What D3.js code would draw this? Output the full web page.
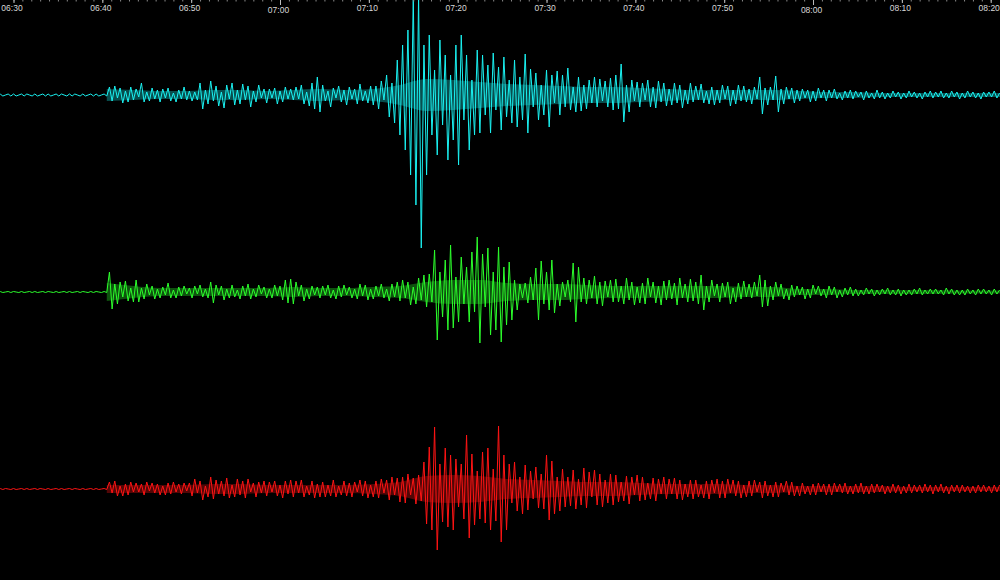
<!DOCTYPE html>
<html><head><meta charset="utf-8">
<script src="https://cdn.jsdelivr.net/npm/d3@7"></script>
<style>html,body{margin:0;padding:0;background:#000;overflow:hidden}</style>
</head><body>
<svg id="c" width="1000" height="580"></svg>
<script>
// time axis: labels every 10 minutes from 06:30 to 08:20
const tickLabels = ["06:30","06:40","06:50","07:00","07:10","07:20","07:30","07:40","07:50","08:00","08:10","08:20"];
// peak samples start at 06:28:30, one every 18 s
const startTime = "06:28:30";
const stepSeconds = 18;
// dense core band (half-width) starts at onset 06:40:30, one value every 3 min
const coreStart = "06:40:30";
const coreStepSeconds = 180;
const traceNames = ["cyan","green","red"];

const cyanValues = [
1,-1,0,1,-1,1,-1,0,1,-1, 1,0,-1,1,-1,0,1,-1,1,-1, 0,1,-1,1,0,-1,1,-1,1,0, -1,1,-1,0,1,-1,1,-1,0,1, -1,
8,-6,9,-3,7,-8,4,-7,8,-5,
6,-2,12,-7,3,-6,7,-4,5,-7,
6,-3,7,-6,2,-7,5,-4,8,-5,
4,-6,3,-5,12,-14,5,-9,14,-6,
9,-11,3,-13,10,-4,12,-10,5,-9,
11,-5,9,-12,4,-7,10,-3,6,-8,
6,-3,7,-9,4,-7,8,-4,6,-5,
8,-4,10,-9,3,-11,12,-14,18,-17,
10,-6,4,-12,7,-3,9,-7,5,-10,
8,-4,6,-9,11,-6,4,-8,9,-10,
9,-14,14,-5,20,-22,12,-28,35,-40,
50,-55,65,-80,100,-110,100,-153,50,-80,
60,-40,25,-60,55,-30,40,-65,20,-45,
50,-70,60,-25,40,-55,15,-40,45,-38,
40,-20,30,-38,42,-15,28,-35,38,-22,
15,-28,35,-32,18,-25,41,-38,26,-12,
22,-25,10,-20,25,-32,20,-8,24,-20,
20,-12,27,-15,8,-17,18,-16,10,-14,
15,-8,18,-12,16,-6,14,-12,17,-15,
20,-14,31,-27,10,-17,15,-6,13,-12,
12,-5,15,-12,8,-13,14,-7,12,-11,
6,-10,12,-8,10,-13,5,-9,12,-7,
9,-5,11,-8,4,-9,8,-10,5,-8,
10,-4,9,-11,5,-9,10,-6,9,-7,
6,-9,8,-4,18,-19,7,-10,8,-5,
19,-17,6,-9,8,-4,7,-8,5,-6,
6,-3,5,-7,4,-6,7,-3,5,-6,
5,-3,6,-4,2,-5,4,-3,5,-4,
4,-2,3,-5,4,-3,2,-4,5,-3,
3,-4,2,-3,4,-2,3,-4,2,-3,
4,-2,3,-3,2,-4,3,-2,4,-3,
3,-2,4,-3,2,-3,4,-2,3,-4,
2,-3,4,-2,3,-3,2,-4,3,-2,
3,-2,4,-3,2
];

const greenValues = [
0.5,-0.5,0,0.5,-0.5,0.5,0,-0.5,0.5,-0.5, 0,0.5,-0.5,0.5,-0.5,0,0.5,-0.5,0.5,0, -0.5,0.5,-0.5,0,0.5,-0.5,0.5,-0.5,0,0.5, -0.5,0.5,0,-0.5,0.5,-0.5,0.5,0,-0.5,0.5, -0.5,
20,-17,8,-12,10,-5,11,-9,4,-10,
12,-10,4,-7,8,-3,6,-7,3,-6,
5,-3,9,-6,2,-6,5,-4,6,-2,
4,-6,6,-2,7,-5,3,-6,10,-11,
7,-3,6,-8,3,-6,7,-5,2,-7,
6,-4,8,-7,3,-5,7,-2,5,-6,
3,-6,7,-4,6,-8,12,-11,13,-12,
10,-4,7,-9,3,-7,6,-3,5,-6,
6,-3,7,-6,2,-7,6,-5,7,-3,
5,-6,3,-7,8,-4,7,-8,3,-7,
6,-4,8,-6,3,-9,8,-5,10,-9,
12,-6,10,-13,5,-12,14,-8,17,-15,
18,-10,42,-48,20,-25,32,-38,47,-36,
15,-30,35,-12,25,-30,40,-20,55,-51,
38,-15,44,-43,20,-38,45,-50,25,-33,
30,-28,12,-18,8,-6,9,-11,15,-8,
24,-28,31,-12,20,-18,32,-21,8,-14,
10,-5,12,-10,29,-30,25,-10,14,-12,
12,-6,16,-12,10,-14,11,-5,12,-10,
13,-10,6,-12,14,-8,10,-13,5,-11,
9,-12,14,-5,10,-11,6,-13,11,-8,
12,-7,9,-13,14,-6,8,-10,13,-9,
10,-12,17,-18,6,-10,12,-4,8,-10,
9,-5,10,-12,4,-10,9,-7,11,-5,
8,-6,10,-4,17,-15,12,-14,6,-8,
10,-4,8,-7,3,-8,7,-5,6,-3,
5,-7,3,-6,7,-2,6,-4,3,-6,
6,-3,5,-6,2,-5,4,-3,5,-4,
3,-4,2,-3,4,-2,3,-4,2,-3,
3,-2,4,-3,2,-3,3,-4,2,-3,
2,-3,3,-2,4,-3,2,-2,3,-2,
3,-2,2,-3,4,-2,3,-3,2,-3,
2,-3,3,-2,2,-3,3,-2,3,-2,
2,-3,3,-2,2
];

const redValues = [
0.5,-0.5,0.5,0,-0.5,0.5,-0.5,0,0.5,-0.5, 0.5,-0.5,0,0.5,-0.5,0.5,0,-0.5,0.5,-0.5, 0,0.5,-0.5,0.5,-0.5,0,0.5,-0.5,0.5,0, -0.5,0.5,-0.5,0,0.5,-0.5,0.5,-0.5,0,0.5, -0.5,
7,-4,8,-7,3,-7,5,-6,7,-3,
6,-3,5,-6,7,-2,6,-4,5,-6,
3,-6,6,-5,7,-3,5,-5,6,-2,
6,-7,10,-4,8,-11,3,-8,12,-10,
9,-5,8,-7,11,-9,4,-8,10,-6,
8,-9,10,-3,6,-8,7,-4,8,-7,
7,-3,8,-7,4,-9,8,-5,9,-8,
8,-4,9,-8,3,-6,8,-9,5,-8,
7,-8,4,-7,9,-8,3,-6,8,-7,
6,-8,7,-3,9,-7,8,-9,4,-8,
8,-9,10,-4,9,-11,12,-6,11,-13,
12,-14,15,-6,11,-15,14,-12,27,-35,
42,-41,62,-61,25,-33,41,-38,34,-41,
30,-18,25,-30,54,-49,35,-36,18,-30,
37,-34,41,-41,20,-32,63,-53,34,-41,
25,-14,27,-22,12,-25,24,-21,18,-10,
22,-19,15,-20,34,-31,28,-25,12,-22,
20,-18,12,-17,19,-20,10,-16,21,-19,
17,-8,19,-16,15,-18,9,-14,15,-16,
14,-13,7,-12,13,-15,12,-6,14,-12,
12,-11,6,-10,11,-12,10,-5,12,-10,
10,-5,11,-10,9,-11,5,-8,9,-10,
9,-8,4,-9,8,-10,9,-4,10,-9,
8,-9,10,-4,9,-7,8,-9,4,-8,
8,-7,9,-3,7,-9,8,-7,4,-8,
7,-8,6,-3,8,-6,7,-7,3,-7,
6,-5,3,-6,5,-6,6,-3,5,-6,
5,-6,6,-3,5,-4,6,-5,3,-5,
5,-4,6,-5,3,-5,5,-4,5,-3,
4,-5,3,-4,5,-4,4,-5,3,-4,
5,-4,4,-3,4,-4,5,-3,4,-5,
4,-3,5,-4,3,-5,4,-3,4,-4,
4,-3,3,-4,3,-4,4,-3,4,-3,
3,-4,4,-3,4
];

// half-width of the dense (filled-looking) core of each trace
const cyanCore  = [6,5,4,4,5,5,4,5,6,5,6,10,16,15,13,11,10,9,8,8,7,6,5,5,5,5,4,3,3,2,2,2,2,2,2];
const greenCore = [9,6,4,4,4,4,4,5,4,4,5,6,10,12,12,9,8,8,7,6,6,6,6,6,5,5,3,3,2,2,2,2,1.5,1.5,1.5];
const redCore   = [4,4,4,4,5,5,4,4,4,4,5,7,13,14,13,10,9,8,7,7,6,5,5,5,4,4,3,3,3,3,2,2,2,2,2];

const parse = d3.timeParse("%H:%M:%S");
const parseHM = d3.timeParse("%H:%M");
const svg = d3.select("#c");

const x = d3.scaleTime()
  .domain([parseHM(tickLabels[0]), parseHM(tickLabels[tickLabels.length-1])])
  .range([13.5, 990.7]);

const t0 = parse(startTime);
const c0 = parse(coreStart);
const traces = [
  {name: traceNames[0], values: cyanValues, core: cyanCore, color: "#1af2f2", base: 95},
  {name: traceNames[1], values: greenValues, core: greenCore, color: "#2cff2c", base: 292},
  {name: traceNames[2], values: redValues, core: redCore, color: "#ff1414", base: 489}
];

traces.forEach(tr => {
  const y = d3.scaleLinear().domain([-200, 200]).range([tr.base + 200, tr.base - 200]);
  const area = d3.area()
    .x((d, i) => x(new Date(c0.getTime() + i * coreStepSeconds * 1000)))
    .y0(d => y(-d))
    .y1(d => y(d))
    .curve(d3.curveMonotoneX);
  svg.append("path")
    .datum(tr.core)
    .attr("d", area)
    .attr("fill", tr.color)
    .attr("fill-opacity", 0.32);
  const line = d3.line()
    .x((d, i) => x(new Date(t0.getTime() + i * stepSeconds * 1000)))
    .y(d => y(d));
  svg.append("path")
    .datum(tr.values)
    .attr("d", line)
    .attr("fill", "none")
    .attr("stroke", tr.color)
    .attr("stroke-width", 1)
    .attr("stroke-linejoin", "bevel");
});

// minor ticks every minute
const minor = svg.append("g").call(
  d3.axisBottom(x).ticks(d3.timeMinute.every(1)).tickSize(1.5).tickFormat("")
);
minor.select(".domain").remove();
minor.selectAll("line").attr("stroke", "#8a8a8a");

// major ticks with labels
const major = svg.append("g").call(
  d3.axisBottom(x).tickValues(tickLabels.map(parseHM)).tickSize(3).tickPadding(2)
    .tickFormat(d3.timeFormat("%H:%M"))
);
major.select(".domain").remove();
major.selectAll("line").attr("stroke", "#bdbdbd")
  .attr("y2", d => d.getMinutes() === 0 ? 5 : 3);
major.selectAll("text")
  .attr("fill", "#d8d8d8")
  .attr("font-family", "Liberation Sans, Arial, sans-serif")
  .attr("font-size", "8.5px")
  .attr("dx", -2)
  .attr("y", d => d.getMinutes() === 0 ? 7 : 5);
</script>
</body></html>
